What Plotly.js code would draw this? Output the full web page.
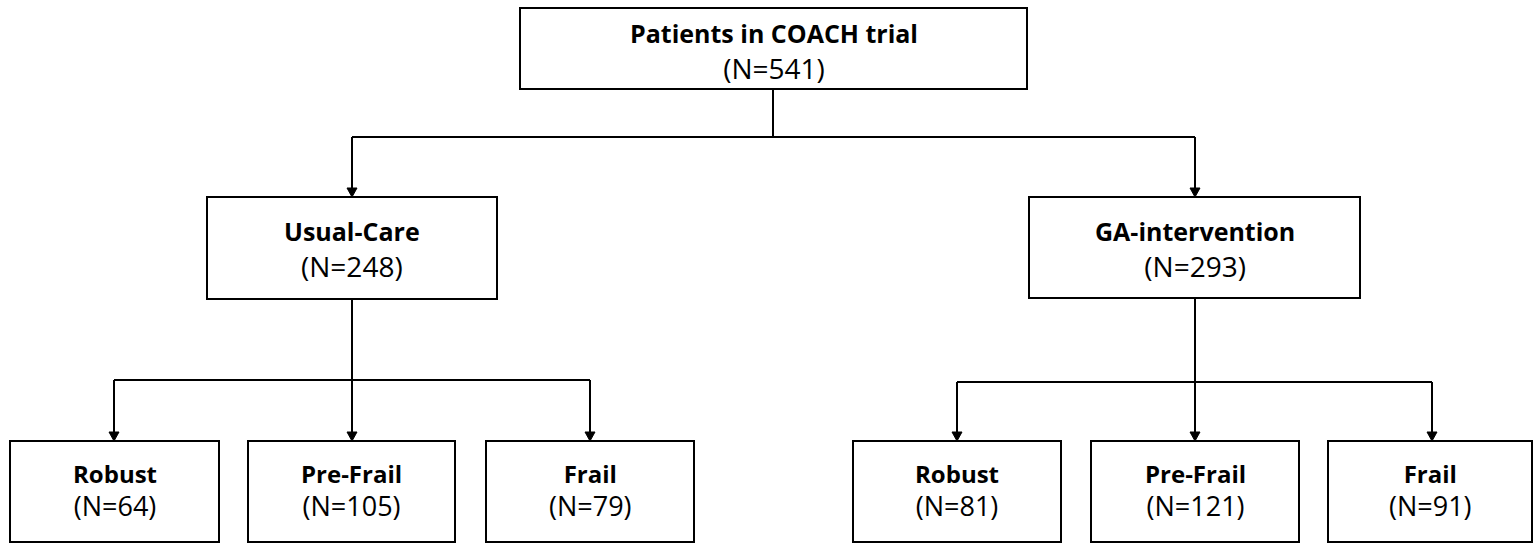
<!DOCTYPE html>
<html>
<head>
<meta charset="utf-8">
<script src="https://cdn.plot.ly/plotly-3.0.1.min.js"></script>
<style>html,body{margin:0;padding:0;background:#fff;}#chart{width:1534px;height:543px;}</style>
</head>
<body>
<div id="chart"></div>
<script>
// ---- data ----
const rootName = "Patients in COACH trial";
const rootN = 541;
const armNames = ["Usual-Care", "GA-intervention"];
const armN = [248, 293];
const frailtyCategories = ["Robust", "Pre-Frail", "Frail"];
const usualCareN = [64, 105, 79];
const gaInterventionN = [81, 121, 91];

// ---- layout geometry (pixel space of the 1534x543 canvas) ----
const LINE = "#000000";
const LW = 2;
const FONT = "Open Sans";

const rootBox = {x0: 520, x1: 1027, y0: 8, y1: 89, ty: 51, gap: 28, bs: 25, rs: 28};
const armBoxes = [
  {x0: 207, x1: 497, y0: 197, y1: 299, ty: 249, gap: 28, bs: 25, rs: 28},
  {x0: 1029, x1: 1360, y0: 197, y1: 298, ty: 249, gap: 28, bs: 25, rs: 28}
];
const leafY = {y0: 441, y1: 542, ty: 490, gap: 25, bs: 24, rs: 27};
const leafX = [
  [[10, 219], [248, 455], [486, 694]],
  [[853, 1061], [1091, 1299], [1328, 1532]]
];
const branchY = [137, 380, 382];

const shapes = [];
const annotations = [];

function box(b) {
  shapes.push({type: "rect", xref: "x", yref: "y", x0: b.x0, x1: b.x1, y0: b.y0, y1: b.y1,
    line: {color: LINE, width: LW}, fillcolor: "rgba(0,0,0,0)"});
}
function seg(x0, y0, x1, y1) {
  shapes.push({type: "line", xref: "x", yref: "y", x0: x0, y0: y0, x1: x1, y1: y1,
    line: {color: LINE, width: LW}});
}
function arrowDown(x, yFrom, yTo) {
  seg(x, yFrom, x, yTo - 8);
  shapes.push({type: "path", xref: "x", yref: "y",
    path: `M ${x - 5},${yTo - 9} L ${x + 5},${yTo - 9} L ${x},${yTo} Z`,
    fillcolor: LINE, line: {color: LINE, width: 1}});
}
function label(x, b, title, n) {
  annotations.push({x: x, y: b.ty, xref: "x", yref: "y",
    text: `<span style="font-size:${b.bs}px"><b>${title}</b></span><br><span style="font-size:${b.rs}px">(N=${n})</span>`,
    showarrow: false, xanchor: "center", yanchor: "middle", align: "center",
    font: {family: FONT, size: b.gap, color: "#000"}});
}
const cx = b => (b.x0 + b.x1) / 2;

// root
box(rootBox);
label(cx(rootBox), rootBox, rootName, rootN);
const rootCx = 773;
seg(rootCx, rootBox.y1, rootCx, branchY[0]);
const armCx = [352, 1195];
seg(armCx[0], branchY[0], armCx[1], branchY[0]);

// arms
armBoxes.forEach((b, i) => {
  box(b);
  arrowDown(armCx[i], branchY[0], b.y0);
  label(armCx[i], b, armNames[i], armN[i]);
});

// leaves
const leafCenters = [[114, 352, 590], [957, 1195, 1432]];
const leafCounts = [usualCareN, gaInterventionN];
[0, 1].forEach(a => {
  const yb = branchY[a + 1];
  seg(leafCenters[a][0], yb, leafCenters[a][2], yb);
  frailtyCategories.forEach((cat, k) => {
    const bx = Object.assign({x0: leafX[a][k][0], x1: leafX[a][k][1]}, leafY);
    box(bx);
    arrowDown(leafCenters[a][k], k === 1 ? armBoxes[a].y1 : yb, leafY.y0);
    label(cx(bx), bx, cat, leafCounts[a][k]);
  });
});

const layout = {
  width: 1534, height: 543,
  margin: {l: 0, r: 0, t: 0, b: 0, pad: 0},
  paper_bgcolor: "#ffffff", plot_bgcolor: "#ffffff",
  xaxis: {range: [0, 1534], visible: false, fixedrange: true},
  yaxis: {range: [543, 0], visible: false, fixedrange: true},
  showlegend: false,
  shapes: shapes,
  annotations: annotations
};
Plotly.newPlot("chart", [], layout, {staticPlot: true, displayModeBar: false});
</script>
</body>
</html>
